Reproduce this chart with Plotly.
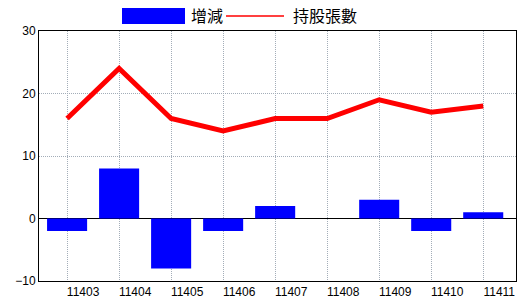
import plotly.graph_objects as go

months = ["11403", "11404", "11405", "11406", "11407", "11408", "11409", "11410", "11411"]
change = [-2, 8, -8, -2, 2, 0, 3, -2, 1]
holdings = [16, 24, 16, 14, 16, 16, 19, 17, 18]
y_ticks = [-10, 0, 10, 20, 30]

fig = go.Figure()
fig.add_trace(go.Bar(x=months, y=change, marker_color="#0000FF", width=0.77,
                     marker_line_width=0, name="增減", showlegend=False))
fig.add_trace(go.Scatter(x=months, y=holdings, mode="lines", name="持股張數",
                         line=dict(color="#FF0000", width=5), showlegend=False))

font = "Liberation Sans, Arial, sans-serif"
T, B, L, R = 31, 281, 39, 516
pw, ph = R - L, B - T
fig.update_layout(
    width=520, height=300,
    margin=dict(l=L, r=520 - R, t=T, b=300 - B, autoexpand=False),
    paper_bgcolor="white", plot_bgcolor="white",
    font=dict(family=font, size=12, color="black"),
    xaxis=dict(type="category", range=[-0.54, 8.63], showline=True, linecolor="black",
               linewidth=1, mirror=True, showgrid=True, gridcolor="#a3adb8",
               griddash="1px,1px", gridwidth=1, ticks="", ticklabelshift=16,
               automargin=False, tickfont=dict(size=12, family=font), zeroline=False),
    yaxis=dict(range=[-10, 30], tickvals=y_ticks, showline=True, linecolor="black",
               linewidth=1, mirror=True, showgrid=True, gridcolor="#a3adb8",
               griddash="1px,1px", gridwidth=1, ticks="", zeroline=True,
               zerolinecolor="black", zerolinewidth=1, automargin=False,
               tickfont=dict(size=12, family=font)),
    shapes=[
        dict(type="rect", xref="paper", yref="paper", x0=(122-L)/pw, x1=(185-L)/pw,
             y0=(B-24)/ph, y1=(B-8)/ph, fillcolor="#0000FF", line_width=0),
        dict(type="line", xref="paper", yref="paper", x0=(226-L)/pw, x1=(284-L)/pw,
             y0=(B-16)/ph, y1=(B-16)/ph, line=dict(color="#FF0000", width=1.5)),
    ],
    annotations=[
        dict(text="增減", xref="paper", yref="paper", x=(189-L)/pw, y=(B-15)/ph,
             xanchor="left", yanchor="middle", showarrow=False,
             font=dict(size=16, family="Noto Sans CJK TC", color="black")),
        dict(text="持股張數", xref="paper", yref="paper", x=(291-L)/pw, y=(B-15)/ph,
             xanchor="left", yanchor="middle", showarrow=False,
             font=dict(size=16, family="Noto Sans CJK TC", color="black")),
    ],
)

fig.write_html("out.html")
